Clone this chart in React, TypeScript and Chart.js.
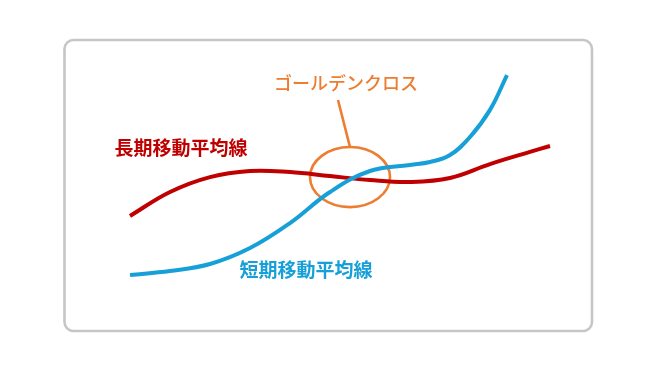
import React, { useEffect, useRef } from "react";
import { Chart, registerables } from "chart.js";

Chart.register(...registerables);

// Trading days and moving-average values (price index)
const longDays = [0, 4, 8, 12, 16, 20, 24, 28, 32, 36, 40, 42];
const longMA = [30.5, 41.9, 49.0, 51.9, 51.4, 49.5, 47.6, 46.7, 48.6, 55.2, 61.0, 63.8];

const shortDays = [0, 4, 8, 12, 16, 20, 24, 28, 30, 32, 34, 36, 37.7];
const shortMA = [2.4, 4.3, 7.6, 15.2, 27.1, 41.9, 51.9, 54.8, 56.2, 59.5, 68.1, 81.0, 97.6];

const longLabel = "長期移動平均線";
const shortLabel = "短期移動平均線";
const crossLabel = "ゴールデンクロス";

// Golden-cross marker: centre and radii in data units
const crossCenter = { x: 22, y: 49 };
const crossRadius = { x: 4, y: 14.3 };

const RED = "#c00000";
const BLUE = "#17a0d8";
const ORANGE = "#ed7d31";
const FONT = '"Noto Sans CJK JP", "Noto Sans", sans-serif';

const toPoints = (xs: number[], ys: number[]) => xs.map((x, i) => ({ x, y: ys[i] }));

const decorations = {
  id: "decorations",
  beforeDraw(chart: any) {
    const { ctx } = chart;
    ctx.save();
    ctx.fillStyle = "#ffffff";
    ctx.fillRect(0, 0, chart.width, chart.height);
    ctx.strokeStyle = "#c6c6c6";
    ctx.lineWidth = 2.6;
    ctx.beginPath();
    ctx.roundRect(64.5, 40, 527.5, 291, 9);
    ctx.stroke();
    ctx.restore();
  },
  beforeDatasetsDraw(chart: any) {
    const { ctx, scales } = chart;
    const xs = scales.x;
    const ys = scales.y;
    const cx = xs.getPixelForValue(crossCenter.x);
    const cy = ys.getPixelForValue(crossCenter.y);
    const rx = Math.abs(xs.getPixelForValue(crossCenter.x + crossRadius.x) - cx);
    const ry = Math.abs(ys.getPixelForValue(crossCenter.y + crossRadius.y) - cy);
    ctx.save();
    ctx.strokeStyle = ORANGE;
    ctx.lineWidth = 2.6;
    ctx.beginPath();
    ctx.ellipse(cx, cy, rx, ry, 0, 0, Math.PI * 2);
    ctx.stroke();
    // leader line up to the caption
    ctx.beginPath();
    ctx.moveTo(xs.getPixelForValue(20.8), ys.getPixelForValue(85.7));
    ctx.lineTo(cx, cy - ry);
    ctx.stroke();
    ctx.restore();
  },
  afterDatasetsDraw(chart: any) {
    const { ctx, scales } = chart;
    const xs = scales.x;
    const ys = scales.y;
    const text = (s: string, x: number, y: number, color: string, font: string) => {
      ctx.fillStyle = color;
      ctx.font = font;
      ctx.textAlign = "center";
      ctx.textBaseline = "middle";
      ctx.fillText(s, xs.getPixelForValue(x), ys.getPixelForValue(y));
    };
    ctx.save();
    text(crossLabel, 21.6, 93.8, ORANGE, `500 18px ${FONT}`);
    text(longLabel, 5.1, 62.9, RED, `bold 19px ${FONT}`);
    text(shortLabel, 17.6, 4.8, BLUE, `bold 19px ${FONT}`);
    ctx.restore();
  },
};

export default function App() {
  const canvasRef = useRef<HTMLCanvasElement | null>(null);

  useEffect(() => {
    if (!canvasRef.current) return;
    const chart = new Chart(canvasRef.current, {
      type: "line",
      data: {
        datasets: [
          {
            label: shortLabel,
            data: toPoints(shortDays, shortMA),
            borderColor: BLUE,
            borderWidth: 4,
            pointRadius: 0,
            tension: 0.4,
            clip: false,
          },
          {
            label: longLabel,
            data: toPoints(longDays, longMA),
            borderColor: RED,
            borderWidth: 4,
            pointRadius: 0,
            tension: 0.4,
            clip: false,
          },
        ],
      },
      options: {
        responsive: false,
        animation: false,
        events: [],
        layout: { padding: { left: 130, right: 110, top: 70, bottom: 91 } },
        plugins: { legend: { display: false }, tooltip: { enabled: false } },
        scales: {
          x: { type: "linear", min: 0, max: 42, display: false },
          y: { type: "linear", min: 0, max: 100, display: false },
        },
      },
      plugins: [decorations],
    });
    return () => chart.destroy();
  }, []);

  return (
    <div style={{ position: "absolute", left: 0, top: 0, width: 660, height: 371 }}>
      <canvas ref={canvasRef} width={660} height={371} />
    </div>
  );
}
